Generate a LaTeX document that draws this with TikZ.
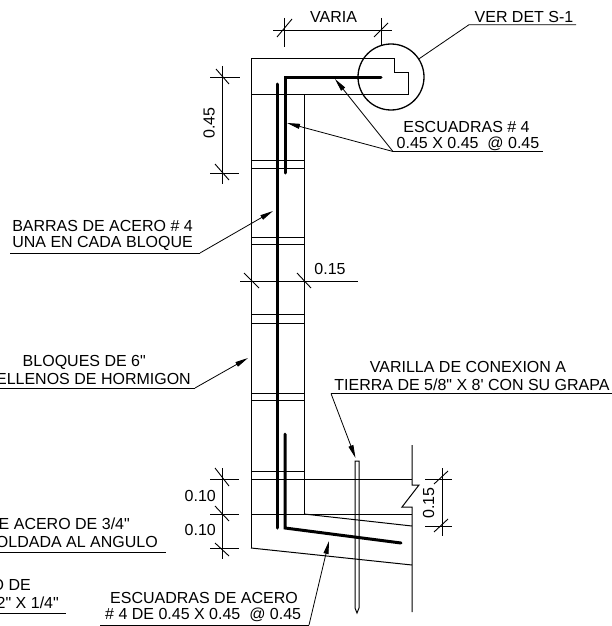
\documentclass[tikz,border=0pt]{standalone}
\usepackage{fontspec}
\newfontfamily\libfont{Liberation Sans}
\usetikzlibrary{arrows.meta}
\newcommand{\dq}{\symbol{34}}
\newcommand{\sq}{\symbol{39}}
\tikzset{
  ln/.style={line width=1pt,black},
  bar/.style={line width=3pt,black,line cap=round,line join=miter},
  lead/.style={line width=0.8pt,black,-{Triangle[length=13pt,width=5pt]}},
  plain lead/.style={line width=0.8pt,black},
  dim/.style={line width=0.8pt,black},
  tick/.style={line width=0.9pt,black},
  txt/.style={inner sep=0pt,font=\libfont\fontsize{16}{18}\selectfont},
}
\begin{document}
\begin{tikzpicture}[x=1pt,y=-1pt]
\useasboundingbox (0,0) rectangle (612,626);
\fill[white] (0,0) rectangle (612,626);
% wall outline
\draw[ln] (251,548) -- (251,59) -- (394,59) -- (394,72) -- (408,72) -- (408,94.5) -- (251,94.5);
\draw[ln] (304,94.5) -- (304,514);
\draw[ln] (251,514) -- (412,514);
\draw[ln] (251,479) -- (412,479);
\draw[ln] (304,514) -- (412,526);
\draw[ln] (251,548) -- (412,565);
\draw[ln] (412,445) -- (412,485) -- (419,485) -- (402,507) -- (412,507) -- (412,612);
% joints
\foreach \yy in {160,168,237,244,314,323,393,400,471}{\draw[ln] (251,\yy) -- (304,\yy);}
% rebar
\draw[bar] (277,84) -- (277,528);
\draw[bar] (285,173) -- (285,77) -- (381,77);
\draw[bar] (285,434) -- (285,528) -- (401,543);
% rod
\draw[ln] (355,461) -- (359,461) -- (359,608) -- (357,613) -- (355,608) -- cycle;
% detail circle
\node[draw,circle,line width=1.3pt,minimum size=66pt,inner sep=0pt] (circ) at (391,77) {};
% --- VARIA
\draw[dim] (273,30) -- (392,30);
\draw[dim] (284,18) -- (284,47);
\draw[dim] (381,18) -- (381,45);
\draw[tick] (277,37) -- (292,19);
\draw[tick] (374,37) -- (388,23);
\node[txt] (tvaria) at (333.5,17) {VARIA};
% --- VER DET
\coordinate (ver1) at (469,24.7); \coordinate (ver2) at (576,24.7);
\draw[plain lead] (circ.33) -- (ver1) -- (ver2);
\node[txt] (tver) at (524,17) {VER DET S-1};
% --- 0.45 left
\draw[dim] (222,66) -- (222,184);
\draw[dim] (210,77) -- (240,77);
\draw[dim] (210,173) -- (239,173);
\draw[tick] (216,69) -- (229,84);
\draw[tick] (215,164) -- (229,180);
\node[txt,rotate=90] (t045) at (209,123) {0.45};
% --- escuadras top
\coordinate (e0) at (393,151.5); \coordinate (e1) at (543,151.5);
\coordinate (ea) at (335,79); \coordinate (eb) at (287,123);
\draw[plain lead] (e0) -- (e1);
\draw[lead] (e0) -- (ea);
\draw[lead] (e0) -- (eb);
\node[txt] (tes1) at (466.5,127) {ESCUADRAS \# 4};
\node[txt] (tes2) at (468,144) {0.45 X 0.45 \ @ 0.45};
% --- barras
\coordinate (b0) at (10,253); \coordinate (b1) at (200,253); \coordinate (b2) at (273,211);
\draw[plain lead] (b0) -- (b1);
\draw[lead] (b1) -- (b2);
\node[txt,anchor=east] (tb1) at (193,226) {BARRAS DE ACERO \# 4};
\node[txt,anchor=east] (tb2) at (193,243) {UNA EN CADA BLOQUE};
% --- 0.15 mid
\draw[dim] (240,281) -- (358,281);
\draw[tick] (244,273) -- (259,288);
\draw[tick] (297,273) -- (311,288);
\node[txt] (t015a) at (330,269) {0.15};
% --- bloques
\coordinate (c0) at (0,388); \coordinate (c1) at (195,388); \coordinate (c2) at (248,358);
\draw[plain lead] (c0) -- (c1);
\draw[lead] (c1) -- (c2);
\node[txt,anchor=east] (tc1) at (146,362) {BLOQUES DE 6\dq};
\node[txt,anchor=east] (tc2) at (191,379) {ELLENOS DE HORMIGON};
% --- varilla
\coordinate (r0) at (612,393.5); \coordinate (r1) at (331,393.5); \coordinate (r2) at (355.5,458);
\draw[plain lead] (r0) -- (r1);
\draw[lead] (r1) -- (r2);
\node[txt] (tr1) at (468,367) {VARILLA DE CONEXION A};
\node[txt] (tr2) at (472,385) {TIERRA DE 5/8\dq\ X 8\sq\ CON SU GRAPA};
% --- 0.15 right
\draw[dim] (442,468) -- (442,536);
\draw[dim] (425,479) -- (452,479);
\draw[dim] (425,526) -- (452,526);
\draw[tick] (434,484) -- (448,471);
\draw[tick] (434,532) -- (448,519);
\node[txt,rotate=90] (t015b) at (428.5,503) {0.15};
% --- 0.10s
\draw[dim] (222,468) -- (222,559);
\draw[dim] (210,479) -- (239,479);
\draw[dim] (210,514) -- (239,514);
\draw[dim] (210,548) -- (239,548);
\draw[tick] (215,468) -- (229,486);
\draw[tick] (215,506) -- (229,521);
\draw[tick] (215,543) -- (229,556);
\node[txt,anchor=east] (t010a) at (216,496) {0.10};
\node[txt,anchor=east] (t010b) at (216,530) {0.10};
% --- clipped left notes
\node[txt,anchor=east] (td1) at (130,524) {E ACERO DE 3/4\dq};
\node[txt,anchor=east] (td2) at (158,542) {OLDADA AL ANGULO};
\coordinate (d0) at (0,552); \coordinate (d1) at (166,552);
\draw[plain lead] (d0) -- (d1);
\node[txt,anchor=east] (tf1) at (31,585) {O DE};
\node[txt,anchor=east] (tf2) at (59,603) {2\dq\ X 1/4\dq};
\coordinate (f0) at (0,613.5); \coordinate (f1) at (66,613.5);
\draw[plain lead] (f0) -- (f1);
% --- escuadras bottom
\coordinate (g0) at (100,625); \coordinate (g1) at (309,625); \coordinate (g2) at (329,541);
\draw[plain lead] (g0) -- (g1);
\draw[lead] (g1) -- (g2);
\node[txt,anchor=west] (tg1) at (110,598) {ESCUADRAS DE ACERO};
\node[txt,anchor=west] (tg2) at (105,615) {\# 4 DE 0.45 X 0.45 \ @ 0.45};
\end{tikzpicture}
\end{document}
